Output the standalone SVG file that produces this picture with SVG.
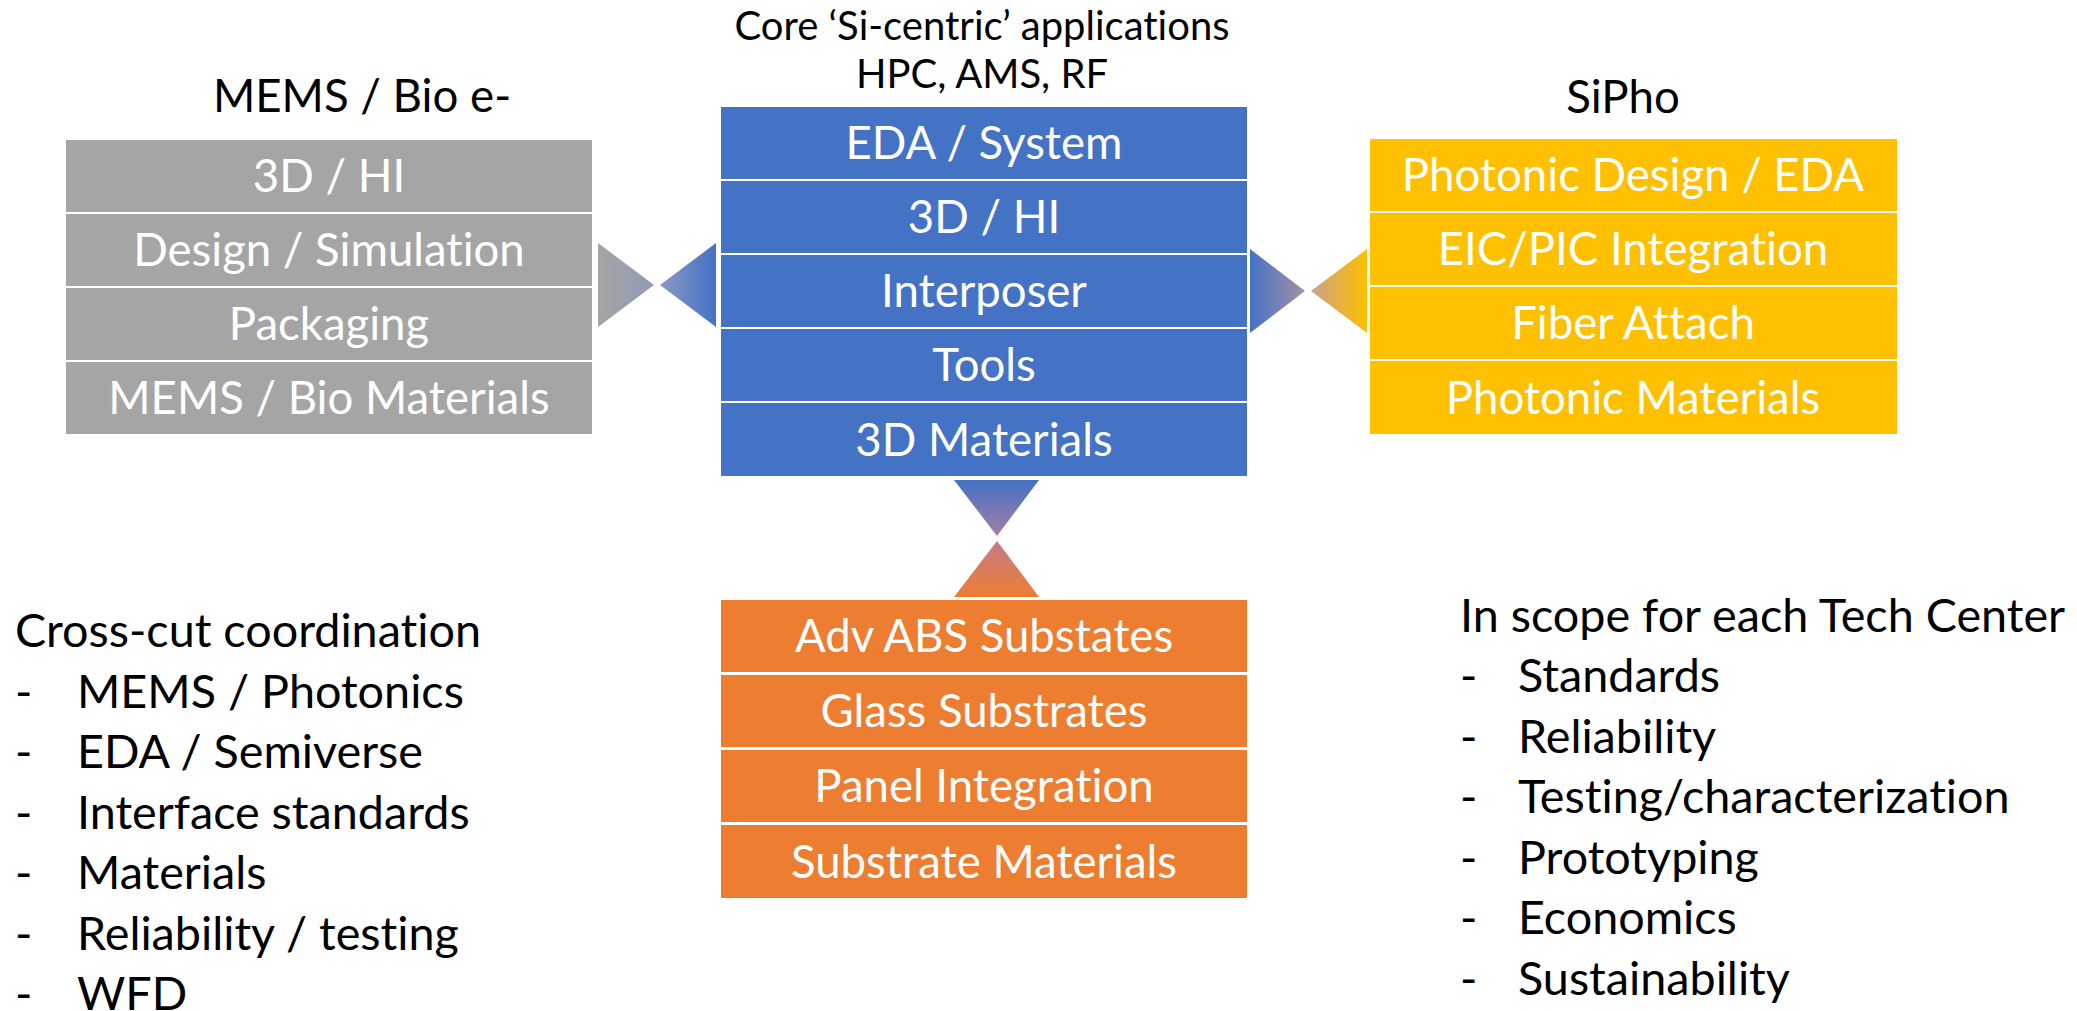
<svg xmlns="http://www.w3.org/2000/svg" width="2077" height="1011" viewBox="0 0 2077 1011">
<style>
  text { font-variant-ligatures: none; font-feature-settings: "liga" 0; }
  .cell { font-family: Lato, "Liberation Sans", sans-serif; font-size: 45.5px; fill: #ffffff; text-anchor: middle; }
  .title { font-family: Lato, "Liberation Sans", sans-serif; font-size: 45.6px; fill: #000000; text-anchor: middle; }
  .sub { font-family: Lato, "Liberation Sans", sans-serif; font-size: 40px; fill: #000000; text-anchor: middle; }
  .list { font-family: Lato, "Liberation Sans", sans-serif; font-size: 46.7px; fill: #000000; }
  .gray { fill: #A5A5A5; }
  .blue { fill: #4472C4; }
  .yellow { fill: #FFC000; }
  .orange { fill: #ED7D31; }
</style>
<defs>
  <linearGradient id="gGray" x1="0" y1="0" x2="1" y2="0">
    <stop offset="0" stop-color="#A5A5A5"/>
    <stop offset="1" stop-color="#8F9BB6"/>
  </linearGradient>
  <linearGradient id="gBlueL" x1="1" y1="0" x2="0" y2="0">
    <stop offset="0" stop-color="#4472C4"/>
    <stop offset="1" stop-color="#8C98C4"/>
  </linearGradient>
  <linearGradient id="gBlueR" x1="0" y1="0" x2="1" y2="0">
    <stop offset="0" stop-color="#4472C4"/>
    <stop offset="1" stop-color="#A490A6"/>
  </linearGradient>
  <linearGradient id="gYellow" x1="1" y1="0" x2="0" y2="0">
    <stop offset="0" stop-color="#FFC000"/>
    <stop offset="1" stop-color="#C9A088"/>
  </linearGradient>
  <linearGradient id="gBlueD" x1="0" y1="0" x2="0" y2="1">
    <stop offset="0" stop-color="#4472C4"/>
    <stop offset="1" stop-color="#A47EA4"/>
  </linearGradient>
  <linearGradient id="gOrange" x1="0" y1="1" x2="0" y2="0">
    <stop offset="0" stop-color="#ED7D31"/>
    <stop offset="1" stop-color="#C47A88"/>
  </linearGradient>
</defs>

<rect x="0" y="0" width="2077" height="1011" fill="#ffffff"/>

<g id="titles">
  <text class="title" x="362" y="112">MEMS / Bio e-</text>
  <text class="sub" x="982" y="40">Core ‘Si-centric’ applications</text>
  <text class="sub" x="982" y="88">HPC, AMS, RF</text>
  <text class="title" x="1623" y="113">SiPho</text>
</g>

<g id="connectors">
  <polygon points="598,243 654,285 598,327" fill="url(#gGray)"/>
  <polygon points="716,243 660,285 716,327" fill="url(#gBlueL)"/>
  <polygon points="1250,249 1305,291 1250,333" fill="url(#gBlueR)"/>
  <polygon points="1367,249 1311,291 1367,333" fill="url(#gYellow)"/>
  <polygon points="954,480 1039,480 997,536" fill="url(#gBlueD)"/>
  <polygon points="954,597 1039,597 997,541" fill="url(#gOrange)"/>
</g>

<g id="node-mems">
  <rect class="gray" x="66" y="140" width="526" height="72"/>
  <rect class="gray" x="66" y="214" width="526" height="72"/>
  <rect class="gray" x="66" y="288" width="526" height="72"/>
  <rect class="gray" x="66" y="362" width="526" height="72"/>
  <text class="cell" x="329" y="192">3D / HI</text>
  <text class="cell" x="329" y="266">Design / Simulation</text>
  <text class="cell" x="329" y="340">Packaging</text>
  <text class="cell" x="329" y="414">MEMS / Bio Materials</text>
</g>

<g id="node-core">
  <rect class="blue" x="721" y="107" width="526" height="72"/>
  <rect class="blue" x="721" y="181" width="526" height="72"/>
  <rect class="blue" x="721" y="255" width="526" height="72"/>
  <rect class="blue" x="721" y="329" width="526" height="72"/>
  <rect class="blue" x="721" y="403" width="526" height="73"/>
  <text class="cell" x="984" y="159">EDA / System</text>
  <text class="cell" x="984" y="233">3D / HI</text>
  <text class="cell" x="984" y="307">Interposer</text>
  <text class="cell" x="984" y="381">Tools</text>
  <text class="cell" x="984" y="456">3D Materials</text>
</g>

<g id="node-sipho">
  <rect class="yellow" x="1370" y="139" width="527" height="72"/>
  <rect class="yellow" x="1370" y="213" width="527" height="72"/>
  <rect class="yellow" x="1370" y="287" width="527" height="72"/>
  <rect class="yellow" x="1370" y="361" width="527" height="73"/>
  <text class="cell" x="1633" y="191">Photonic Design / EDA</text>
  <text class="cell" x="1633" y="265">EIC/PIC Integration</text>
  <text class="cell" x="1633" y="339">Fiber Attach</text>
  <text class="cell" x="1633" y="414">Photonic Materials</text>
</g>

<g id="node-substrate">
  <rect class="orange" x="721" y="600" width="526" height="72"/>
  <rect class="orange" x="721" y="675" width="526" height="72"/>
  <rect class="orange" x="721" y="750" width="526" height="72"/>
  <rect class="orange" x="721" y="825" width="526" height="73"/>
  <text class="cell" x="984" y="652">Adv ABS Substates</text>
  <text class="cell" x="984" y="727">Glass Substrates</text>
  <text class="cell" x="984" y="802">Panel Integration</text>
  <text class="cell" x="984" y="878">Substrate Materials</text>
</g>

<g id="crosscut-list">
  <text class="list" x="15" y="647">Cross-cut coordination</text>
  <text class="list" x="15" y="707.5">-</text><text class="list" x="77" y="707.5">MEMS / Photonics</text>
  <text class="list" x="15" y="768">-</text><text class="list" x="77" y="768">EDA / Semiverse</text>
  <text class="list" x="15" y="828.5">-</text><text class="list" x="77" y="828.5">Interface standards</text>
  <text class="list" x="15" y="889">-</text><text class="list" x="77" y="889">Materials</text>
  <text class="list" x="15" y="949.5">-</text><text class="list" x="77" y="949.5">Reliability / testing</text>
  <text class="list" x="15" y="1010">-</text><text class="list" x="77" y="1010">WFD</text>
</g>

<g id="scope-list">
  <text class="list" x="1460" y="632">In scope for each Tech Center</text>
  <text class="list" x="1460" y="692">-</text><text class="list" x="1518" y="692">Standards</text>
  <text class="list" x="1460" y="752.5">-</text><text class="list" x="1518" y="752.5">Reliability</text>
  <text class="list" x="1460" y="813">-</text><text class="list" x="1518" y="813">Testing/characterization</text>
  <text class="list" x="1460" y="873.5">-</text><text class="list" x="1518" y="873.5">Prototyping</text>
  <text class="list" x="1460" y="934">-</text><text class="list" x="1518" y="934">Economics</text>
  <text class="list" x="1460" y="994.5">-</text><text class="list" x="1518" y="994.5">Sustainability</text>
</g>
</svg>
